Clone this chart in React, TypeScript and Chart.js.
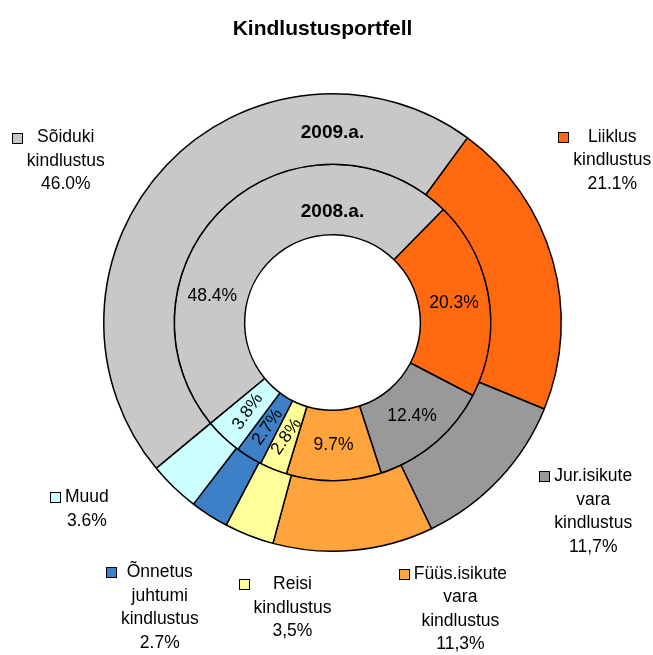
import React, { useEffect, useRef } from "react";
import { Chart, registerables } from "chart.js";

Chart.register(...registerables);

const categories = [
  "Sõiduki kindlustus",
  "Liiklus kindlustus",
  "Jur.isikute vara kindlustus",
  "Füüs.isikute vara kindlustus",
  "Reisi kindlustus",
  "Õnnetus juhtumi kindlustus",
  "Muud",
];
const calloutLines = [
  ["Sõiduki", "kindlustus"],
  ["Liiklus", "kindlustus"],
  ["Jur.isikute", "vara", "kindlustus"],
  ["Füüs.isikute", "vara", "kindlustus"],
  ["Reisi", "kindlustus"],
  ["Õnnetus", "juhtumi", "kindlustus"],
  ["Muud"],
];
const values2009 = [46.0, 21.1, 11.7, 11.3, 3.5, 2.7, 3.6];
const values2008 = [48.4, 20.3, 12.4, 9.7, 2.8, 2.7, 3.8];
const labels2009 = ["46.0%", "21.1%", "11,7%", "11,3%", "3,5%", "2.7%", "3.6%"];
const labels2008 = ["48.4%", "20.3%", "12.4%", "9.7%", "2.8%", "2.7%", "3.8%"];
const ringNames = ["2009.a.", "2008.a."];
const title = "Kindlustusportfell";

// styling / layout
const colors = ["#C8C8C8", "#FF6A10", "#999999", "#FFA33C", "#FFFF99", "#3E80C8", "#CCFFFF"];
// callout anchors relative to doughnut centre, in units of the outer radius
const calloutAnchor = [
  [-1.166, -0.808],
  [1.223, -0.812],
  [1.14, 0.672],
  [0.559, 1.1],
  [-0.175, 1.144],
  [-0.755, 1.092],
  [-1.074, 0.764],
];
const innerAngleOverride: (number | null)[] = [282.5, null, null, null, null, null, null];
const innerRotated = [false, false, false, false, true, true, true];
const ringNameFrac = [0.45, 0.33];

const FONT = "'Liberation Sans', Arial, sans-serif";

const labelPlugin = {
  id: "customLabels",
  afterDraw(chart: any) {
    const ctx = chart.ctx as CanvasRenderingContext2D;
    const outerMeta = chart.getDatasetMeta(0);
    const innerMeta = chart.getDatasetMeta(1);
    const a0 = outerMeta.data[0];
    const cx = a0.x;
    const cy = a0.y;
    const R = a0.outerRadius;

    ctx.save();
    ctx.fillStyle = "#000";
    ctx.textAlign = "center";

    // title
    ctx.textBaseline = "alphabetic";
    ctx.font = `bold 21px ${FONT}`;
    ctx.fillText(title, chart.width / 2 - 4, 35);

    ctx.textBaseline = "middle";
    // ring names
    ctx.font = `bold 19px ${FONT}`;
    [outerMeta, innerMeta].forEach((meta: any, i: number) => {
      const arc = meta.data[0];
      const r = arc.innerRadius + ringNameFrac[i] * (arc.outerRadius - arc.innerRadius);
      ctx.fillText(ringNames[i], cx, cy - r);
    });

    // inner ring labels
    ctx.font = `17.5px ${FONT}`;
    innerMeta.data.forEach((arc: any, i: number) => {
      let mid = (arc.startAngle + arc.endAngle) / 2;
      const ov = innerAngleOverride[i];
      if (ov !== null) mid = (ov * Math.PI) / 180 - Math.PI / 2;
      const r = (arc.innerRadius + arc.outerRadius) / 2;
      const x = cx + Math.cos(mid) * r;
      const y = cy + Math.sin(mid) * r;
      ctx.save();
      ctx.translate(x, y);
      if (innerRotated[i]) {
        ctx.rotate((-55 * Math.PI) / 180);
      }
      ctx.fillText(labels2008[i], 0, 0);
      ctx.restore();
    });

    // outer callouts with legend keys
    ctx.font = `17.5px ${FONT}`;
    const lh = 23.5;
    calloutLines.forEach((lines, i) => {
      const all = [...lines, labels2009[i]];
      const bx = cx + calloutAnchor[i][0] * R;
      const by = cy + calloutAnchor[i][1] * R;
      let maxW = 0;
      all.forEach((t) => {
        maxW = Math.max(maxW, ctx.measureText(t).width);
      });
      all.forEach((t, k) => {
        ctx.fillStyle = "#000";
        ctx.fillText(t, bx, by + k * lh);
      });
      const kx = Math.round(bx - maxW / 2 - 5 - 10);
      const ky = Math.round(by - 5);
      ctx.fillStyle = colors[i];
      ctx.fillRect(kx, ky, 10, 10);
      ctx.strokeStyle = "#000";
      ctx.lineWidth = 1;
      ctx.strokeRect(kx + 0.5, ky + 0.5, 10, 10);
    });
    ctx.restore();
  },
};

export default function App() {
  const ref = useRef<HTMLCanvasElement>(null);
  useEffect(() => {
    if (!ref.current) return;
    const chart = new Chart(ref.current, {
      type: "doughnut",
      data: {
        labels: categories,
        datasets: [
          {
            label: ringNames[0],
            data: values2009,
            backgroundColor: colors,
            borderColor: "#000",
            borderWidth: 1.5,
          },
          {
            label: ringNames[1],
            data: values2008,
            backgroundColor: colors,
            borderColor: "#000",
            borderWidth: 1.5,
          },
        ],
      },
      options: {
        responsive: false,
        animation: false,
        rotation: 230.4,
        cutout: "38.4%",
        layout: { padding: { left: 103, right: 91, top: 93, bottom: 103 } },
        plugins: {
          legend: { display: false },
          tooltip: { enabled: false },
          title: { display: false },
        },
        events: [],
      },
      plugins: [labelPlugin],
    });
    return () => chart.destroy();
  }, []);
  return (
    <div style={{ position: "fixed", left: 0, top: 0, width: 653, height: 655, background: "#fff" }}>
      <canvas ref={ref} width={653} height={655} />
    </div>
  );
}
